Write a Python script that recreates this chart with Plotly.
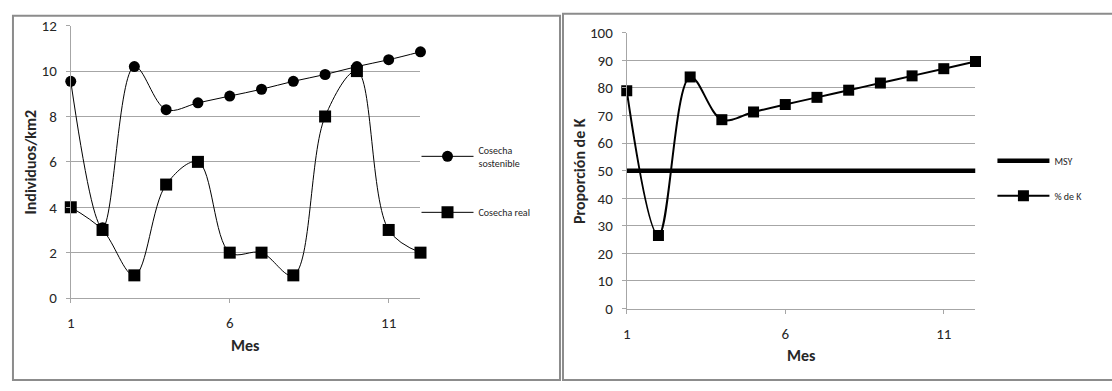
import plotly.graph_objects as go

# Monthly data
meses = list(range(1, 13))
cosecha_sostenible = [9.55, 3.1, 10.2, 8.3, 8.6, 8.9, 9.2, 9.55, 9.85, 10.2, 10.5, 10.85]
cosecha_real = [4, 3, 1, 5, 6, 2, 2, 1, 8, 10, 3, 2]
porcentaje_k = [79, 26.5, 84, 68.5, 71.3, 74, 76.6, 79.2, 81.8, 84.4, 87, 89.6]
msy = [50] * 12

W, H = 1112, 391
FONT = "Calibri, Carlito, Lato, sans-serif"
GRID = "#a6a6a6"


def px_x(v):
    return v / W


def px_y(v):
    return 1 - v / H


fig = go.Figure()

# Left panel: harvest
fig.add_trace(go.Scatter(
    x=meses, y=cosecha_sostenible, name="Cosecha<br>sostenible",
    mode="lines+markers", line=dict(color="black", width=1, shape="spline", smoothing=1),
    marker=dict(symbol="circle", size=11, color="black"), cliponaxis=False,
    xaxis="x", yaxis="y", legend="legend", legendgroup="a"))
fig.add_trace(go.Scatter(
    x=meses, y=cosecha_real, name="Cosecha real",
    mode="lines+markers", line=dict(color="black", width=1, shape="spline", smoothing=1),
    marker=dict(symbol="square", size=12, color="black"), cliponaxis=False,
    xaxis="x", yaxis="y", legend="legend", legendgroup="b"))

# Right panel: proportion of K
fig.add_trace(go.Scatter(
    x=meses, y=msy, name="MSY", mode="lines",
    line=dict(color="black", width=4.5), cliponaxis=False,
    xaxis="x2", yaxis="y2", legend="legend2", legendgroup="c"))
fig.add_trace(go.Scatter(
    x=meses, y=porcentaje_k, name="% de K",
    mode="lines+markers", line=dict(color="black", width=2, shape="spline", smoothing=1),
    marker=dict(symbol="square", size=11, color="black"), cliponaxis=False,
    xaxis="x2", yaxis="y2", legend="legend2", legendgroup="d"))

axis_common = dict(
    showline=True, linecolor=GRID, linewidth=1,
    ticks="outside", ticklen=4, tickcolor=GRID, zeroline=False,
    tickfont=dict(family=FONT, size=15, color="#262626"),
)

fig.update_layout(
    width=W, height=H, margin=dict(l=0, r=0, t=0, b=0),
    paper_bgcolor="white", plot_bgcolor="white", showlegend=True,
    xaxis=dict(domain=[px_x(67), px_x(418)], range=[1, 12], tick0=1, dtick=5,
               anchor="y", showgrid=False, ticklabelstandoff=7, **axis_common),
    yaxis=dict(domain=[px_y(303), px_y(17.5)], range=[0, 12], dtick=2,
               anchor="x", showgrid=True, gridcolor=GRID, gridwidth=1,
               ticklabelstandoff=6, **axis_common),
    xaxis2=dict(domain=[px_x(625), px_x(975)], range=[1, 12], tick0=1, dtick=5,
                anchor="y2", showgrid=False, ticklabelstandoff=7, **axis_common),
    yaxis2=dict(domain=[px_y(314), px_y(25)], range=[0, 100], dtick=10,
                anchor="x2", showgrid=True, gridcolor=GRID, gridwidth=1,
                ticklabelstandoff=6, **axis_common),
    legend=dict(x=px_x(414), y=px_y(134), xanchor="left", yanchor="top",
                bgcolor="rgba(0,0,0,0)", tracegroupgap=32, itemwidth=52,
                font=dict(family=FONT, size=10, color="#262626")),
    legend2=dict(x=px_x(992), y=px_y(144), xanchor="left", yanchor="top",
                 bgcolor="rgba(0,0,0,0)", tracegroupgap=16, itemwidth=52,
                 font=dict(family=FONT, size=10, color="#262626")),
)

# Chart frames
fig.add_shape(type="rect", xref="paper", yref="paper",
              x0=px_x(9), x1=px_x(558), y0=px_y(389), y1=px_y(7),
              line=dict(color="#8c8c8c", width=2))
fig.add_shape(type="rect", xref="paper", yref="paper",
              x0=px_x(561), x1=px_x(1113), y0=px_y(389), y1=px_y(5),
              line=dict(color="#8c8c8c", width=2))

title_font = dict(family=FONT, size=16, color="#262626")
titles = [
    ("Individuos/km2", 27, 160, -90),
    ("Mes", 242, 353, 0),
    ("Proporción de K", 577, 170, -90),
    ("Mes", 800, 363, 0),
]
for text, x, y, ang in titles:
    fig.add_annotation(text=f"<b>{text}</b>", xref="paper", yref="paper",
                       x=px_x(x), y=px_y(y), showarrow=False, textangle=ang,
                       xanchor="center", yanchor="middle", font=title_font)

fig.write_html("out.html")
